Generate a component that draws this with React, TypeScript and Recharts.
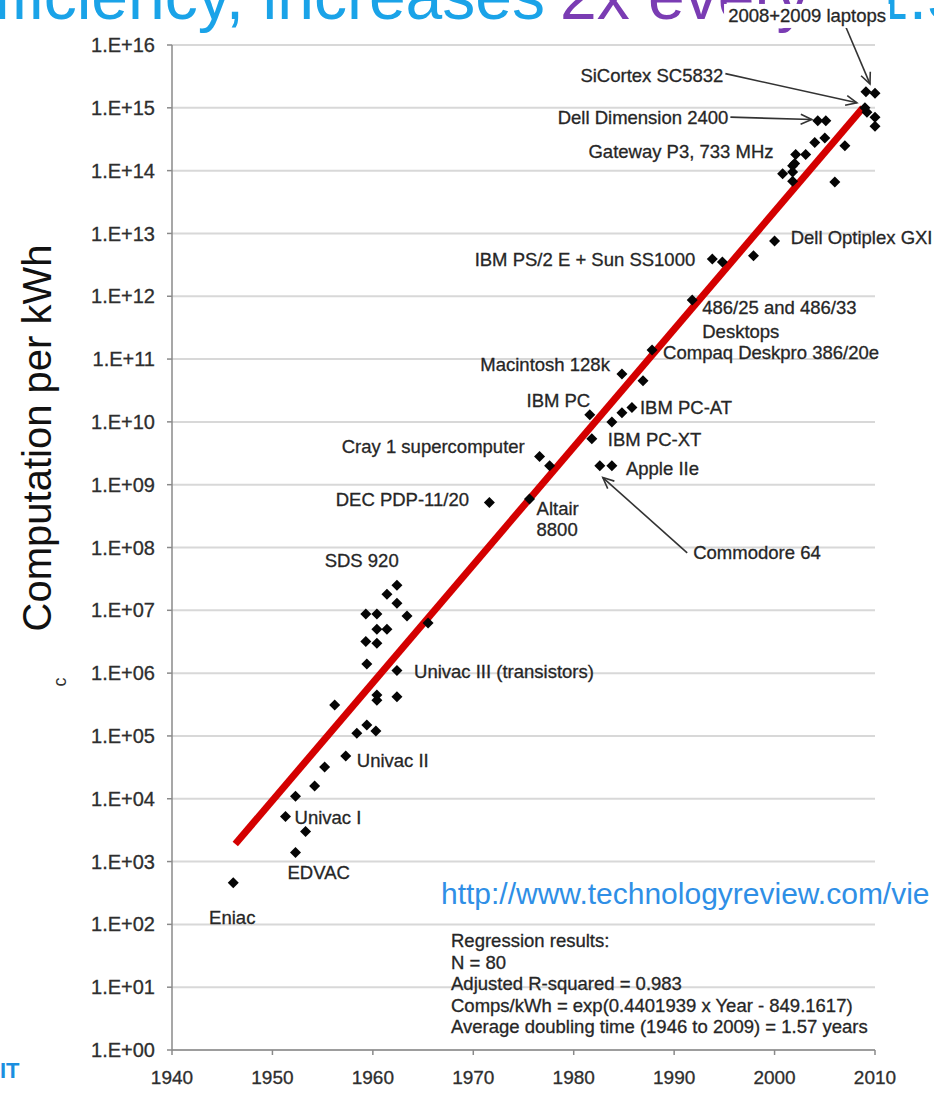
import React from "react";
import { ScatterChart, Scatter, XAxis, YAxis, CartesianGrid, ReferenceLine, ReferenceDot } from "recharts";

const FONT = "'Liberation Sans', Arial, Helvetica, sans-serif";

// year of each machine and its computations per kWh
const years = [
  1946.1, 1952.3, 1953.3, 1951.3, 1952.3, 1954.2, 1955.2, 1957.3, 1958.4, 1959.4,
  1960.3, 1956.2, 1962.4, 1961.4, 1962.4, 1963.4, 1959.3, 1960.4, 1960.4, 1961.4,
  1959.3, 1960.4, 1965.5, 1959.4, 1962.4, 1960.4, 1960.4, 1962.4, 1971.6, 1975.6,
  1976.6, 1977.6, 1982.6, 1983.8, 1981.8, 1981.6, 1983.8, 1984.8, 1985.8, 1984.8,
  1986.9, 1987.8, 1991.8, 1993.8, 1994.8, 1997.9, 2000.0, 2010.0, 2009.1, 2009.2,
  2010.0, 2010.0, 2009.0, 2004.3, 2005.1, 2004.0, 2005.0, 2007.0, 2006.0, 2003.1,
  2002.1, 2002.0, 2000.8, 2001.8, 2001.8, 2001.8,
];
const comps = [
  4.6e2, 1.4e3, 3.0e3, 5.2e3, 1.1e4, 1.6e4, 3.2e4, 4.8e4, 1.1e5, 1.5e5,
  1.2e5, 3.1e5, 2.5e7, 1.8e7, 1.3e7, 8.1e6, 8.7e6, 8.7e6, 5.0e6, 5.0e6,
  3.2e6, 3.0e6, 6.3e6, 1.4e6, 1.1e6, 4.5e5, 3.7e5, 4.2e5, 5.2e8, 5.9e8,
  2.8e9, 2.0e9, 2.0e9, 2.0e9, 5.4e9, 1.3e10, 1.0e10, 1.4e10, 1.7e10, 5.8e10,
  4.5e10, 1.4e11, 8.7e11, 3.9e12, 3.5e12, 4.4e12, 7.6e12, 1.7e15, 1.8e15, 8.5e14,
  7.1e14, 5.1e14, 1.0e15, 6.2e14, 6.2e14, 2.8e14, 3.3e14, 2.5e14, 6.6e13, 1.8e14,
  1.8e14, 1.3e14, 8.9e13, 9.5e13, 6.8e13, 1.2e14,
];

const xTicks = [1940, 1950, 1960, 1970, 1980, 1990, 2000, 2010];
const yTicks = [1, 1e1, 1e2, 1e3, 1e4, 1e5, 1e6, 1e7, 1e8, 1e9, 1e10, 1e11, 1e12, 1e13, 1e14, 1e15, 1e16];

// hand drawn trend line, end points
const fitLine = [
  { x: 1946.3, y: 1.9e3 },
  { x: 2008.8, y: 1.0e15 },
];

// labels placed in chart coordinates
const notes = [
  { text: "Eniac", year: 1946.0, value: 1.3e2, anchor: "middle" },
  { text: "EDVAC", year: 1951.5, value: 6.8e2, anchor: "start" },
  { text: "Univac I", year: 1952.2, value: 5.1e3, anchor: "start" },
  { text: "Univac II", year: 1958.4, value: 4.1e4, anchor: "start" },
  { text: "Univac III (transistors)", year: 1964.1, value: 1.07e6, anchor: "start" },
  { text: "SDS 920", year: 1955.2, value: 6.3e7, anchor: "start" },
  { text: "DEC PDP-11/20", year: 1956.3, value: 5.9e8, anchor: "start" },
  { text: "Cray 1 supercomputer", year: 1956.9, value: 4.1e9, anchor: "start" },
  { text: "Altair", year: 1976.3, value: 4.2e8, anchor: "start" },
  { text: "8800", year: 1976.3, value: 1.9e8, anchor: "start" },
  { text: "Macintosh 128k", year: 1970.7, value: 8.3e10, anchor: "start" },
  { text: "IBM PC", year: 1975.3, value: 2.2e10, anchor: "start" },
  { text: "IBM PC-AT", year: 1986.6, value: 1.7e10, anchor: "start" },
  { text: "IBM PC-XT", year: 1983.4, value: 5.2e9, anchor: "start" },
  { text: "Apple IIe", year: 1985.2, value: 1.8e9, anchor: "start" },
  { text: "Commodore 64", year: 1991.9, value: 8.2e7, anchor: "start" },
  { text: "Compaq Deskpro 386/20e", year: 1988.9, value: 1.25e11, anchor: "start" },
  { text: "486/25 and 486/33", year: 1992.8, value: 6.5e11, anchor: "start" },
  { text: "Desktops", year: 1992.8, value: 2.7e11, anchor: "start" },
  { text: "Dell Optiplex GXI", year: 2001.6, value: 8.5e12, anchor: "start" },
  { text: "IBM PS/2 E + Sun SS1000", year: 1992.1, value: 3.9e12, anchor: "end" },
  { text: "Gateway P3, 733 MHz", year: 1999.9, value: 2.0e14, anchor: "end" },
  { text: "Dell Dimension 2400", year: 1995.4, value: 7.1e14, anchor: "end" },
  { text: "SiCortex SC5832", year: 1994.9, value: 3.3e15, anchor: "end" },
  { text: "2008+2009 laptops", year: 2011.1, value: 2.9e16, anchor: "end", bg: true },
];

const arrows = [
  { from: { x: 2007.0, y: 2.1e16 }, to: { x: 2009.5, y: 2.4e15 } },
  { from: { x: 1995.1, y: 3.5e15 }, to: { x: 2008.2, y: 1.2e15 } },
  { from: { x: 1995.6, y: 7.1e14 }, to: { x: 2003.7, y: 6.5e14 } },
  { from: { x: 1991.3, y: 8.2e7 }, to: { x: 1982.9, y: 1.3e9 } },
];

const regression = [
  "Regression results:",
  "N = 80",
  "Adjusted R-squared = 0.983",
  "Comps/kWh = exp(0.4401939 x Year - 849.1617)",
  "Average doubling time (1946 to 2009) = 1.57 years",
];

const points = years.map((year, i) => ({ year, comps: comps[i] }));

const fmtPow = (v: number) => "1.E+" + String(Math.round(Math.log10(v))).padStart(2, "0");

const Diamond = (p: any) => {
  const { cx, cy } = p;
  const r = 5.5;
  return <polygon points={`${cx},${cy - r} ${cx + r},${cy} ${cx},${cy + r} ${cx - r},${cy}`} fill="#050505" />;
};

const Arrow = (p: any) => {
  const { x1, y1, x2, y2 } = p;
  const a = Math.atan2(y2 - y1, x2 - x1);
  const L = 11, W = 5;
  const bx = x2 - L * Math.cos(a), by = y2 - L * Math.sin(a);
  const nx = -Math.sin(a) * W, ny = Math.cos(a) * W;
  return (
    <g stroke="#333" strokeWidth={1.6} fill="none">
      <line x1={x1} y1={y1} x2={x2} y2={y2} />
      <polyline points={`${bx + nx},${by + ny} ${x2},${y2} ${bx - nx},${by - ny}`} />
    </g>
  );
};

export default function App() {
  return (
    <div style={{ position: "absolute", left: 0, top: 0, width: 934, height: 1094, background: "#fff", overflow: "hidden" }}>
      {/* slide title, mostly cut off above the page */}
      <svg width={934} height={60} style={{ position: "absolute", left: 0, top: 0 }}>
        <text x={545} y={19} textAnchor="end" fontSize={66} fontFamily={FONT} fill="#1aa3e8">efficiency, increases</text>
        <text x={560} y={19} fontSize={66} fontFamily={FONT} fill="#7a3cb3">2x every</text>
        <text x={872} y={19} fontSize={66} fontFamily={FONT} fill="#1aa3e8">1.57 years</text>
      </svg>
      <div style={{ position: "absolute", left: 0, top: 0 }}>
        <ScatterChart width={934} height={1094} margin={{ top: 45, right: 59, bottom: 14, left: 92 }}>
          <CartesianGrid vertical={false} stroke="#d8d8d8" strokeWidth={2} />
          <XAxis
            type="number"
            dataKey="year"
            domain={[1940, 2010]}
            ticks={xTicks}
            height={30}
            tickSize={5}
            tickMargin={16}
            stroke="#8a8a8a"
            strokeWidth={1.5}
            tick={{ fontSize: 19, fill: "#2e2e2e", fontFamily: FONT, stroke: "#2e2e2e", strokeWidth: 0.3 }}
          />
          <YAxis
            type="number"
            dataKey="comps"
            scale="log"
            domain={[1, 1e16]}
            ticks={yTicks}
            width={80}
            tickSize={5}
            tickMargin={12}
            stroke="#8a8a8a"
            strokeWidth={1.5}
            tickFormatter={fmtPow}
            tick={{ fontSize: 20, fill: "#2e2e2e", fontFamily: FONT, stroke: "#2e2e2e", strokeWidth: 0.3 }}
          />
          <Scatter data={points} shape={Diamond} isAnimationActive={false} />
          <ReferenceLine segment={fitLine} stroke="#d40000" strokeWidth={7} ifOverflow="visible" />
          {arrows.map((a, i) => (
            <ReferenceLine key={`ar-${i}`} segment={[a.from, a.to]} ifOverflow="visible" shape={Arrow} />
          ))}
          {notes.map((n, i) => (
            <ReferenceDot
              key={`n-${i}`}
              x={n.year}
              y={n.value}
              r={0}
              ifOverflow="visible"
              shape={(p: any) => (
                <g>
                  {n.bg && <rect x={p.cx - 162} y={p.cy - 12} width={166} height={24} fill="#fff" />}
                  <text
                    x={p.cx}
                    y={p.cy}
                    dy="0.35em"
                    textAnchor={n.anchor as any}
                    fontSize={18.5}
                    fontFamily={FONT}
                    fill="#262626"
                    stroke="#262626"
                    strokeWidth={0.3}
                  >
                    {n.text}
                  </text>
                </g>
              )}
            />
          ))}
        </ScatterChart>
      </div>
      <svg width={934} height={1094} style={{ position: "absolute", left: 0, top: 0, pointerEvents: "none" }}>
        <text transform="translate(51,438) rotate(-90)" textAnchor="middle" fontSize={40} fontFamily={FONT} fill="#111">
          Computation per kWh
        </text>
        <text transform="translate(66,682) rotate(-90)" textAnchor="middle" fontSize={18} fontFamily={FONT} fill="#333">c</text>
        <text x={441} y={904} fontSize={30} fontFamily={FONT} fill="#2f8fe6">http://www.technologyreview.com/vie</text>
        {regression.map((line, i) => (
          <text key={line} x={451} y={947 + i * 21.6} fontSize={18.5} fontFamily={FONT} fill="#262626" stroke="#262626" strokeWidth={0.3}>
            {line}
          </text>
        ))}
        <text x={0} y={1078} fontSize={22} fontWeight="bold" fontFamily={FONT} fill="#1b8fe0">IT</text>
      </svg>
    </div>
  );
}
